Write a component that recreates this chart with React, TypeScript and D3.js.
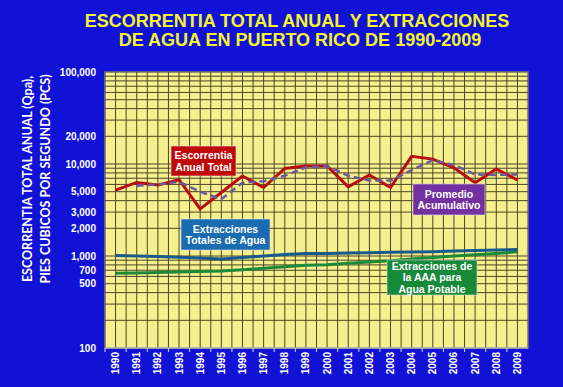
import React from "react"
import * as d3 from "d3"

// data
const years = [
	"1990", "1991", "1992", "1993", "1994", "1995", "1996", "1997", "1998", "1999",
	"2000", "2001", "2002", "2003", "2004", "2005", "2006", "2007", "2008", "2009",
]
const runoff = [
	5200, 6300, 5900, 6750, 3250, 4900, 7400, 5550, 8950, 9500,
	9500, 5650, 7600, 5550, 12100, 11300, 9100, 6250, 8850, 6700,
]
const cumulativeAvg = [
	null, 5800, 6000, 6400, 5000, 4150, 6250, 6500, 7450, 9200,
	9500, 7450, 6600, 6600, 8600, 11000, 9750, 7700, 7600, 7700,
]
const totalWithdrawals = [
	1010, 1000, 990, 970, 950, 925, 965, 1000, 1040, 1065,
	1065, 1075, 1085, 1095, 1105, 1115, 1130, 1145, 1160, 1180,
]
const aaaWithdrawals = [
	650, 655, 660, 668, 680, 686, 708, 735, 763, 792,
	805, 834, 862, 890, 925, 965, 1000, 1030, 1065, 1110,
]
const yTicks = [100, 500, 700, 1000, 2000, 3000, 5000, 10000, 20000, 100000]

const W = 563
const H = 387
const margin = { top: 72, right: 35, bottom: 39, left: 105 }

const App: React.FC = () => {
	const innerW = W - margin.left - margin.right
	const innerH = H - margin.top - margin.bottom

	const x = d3.scaleBand().domain(years).range([margin.left, margin.left + innerW])
	const y = d3.scaleLog().domain([100, 100000]).range([margin.top + innerH, margin.top])
	const cx = (d: string) => (x(d) as number) + x.bandwidth() / 2

	const hGrid: number[] = []
	for (const dec of [100, 1000, 10000]) {
		for (let k = 1; k <= 9; k++) hGrid.push(dec * k)
	}
	hGrid.push(100000)

	const vGrid: number[] = []
	years.forEach((yr) => {
		vGrid.push(x(yr) as number)
		vGrid.push(cx(yr))
	})
	vGrid.push(margin.left + innerW)

	const line = d3
		.line<number | null>()
		.defined((d) => d != null)
		.x((d, i) => cx(years[i]))
		.y((d) => y(d as number))

	const font = "'Liberation Sans', Arial, sans-serif"

	const box = (
		x0: number,
		y0: number,
		w: number,
		h: number,
		fill: string,
		lines: string[]
	) => (
		<g>
			<rect x={x0} y={y0} width={w} height={h} fill={fill} stroke="#e0e0e0" strokeWidth={0.6} />
			{lines.map((t, i) => (
				<text
					key={i}
					x={x0 + w / 2}
					y={y0 + h / 2 + (i - (lines.length - 1) / 2) * 11.5}
					dy="0.36em"
					textAnchor="middle"
					fill="white"
					fontWeight="bold"
					fontSize={10.5}
					fontFamily={font}>
					{t}
				</text>
			))}
		</g>
	)

	return (
		<svg
			width={W}
			height={H}
			style={{ position: "absolute", left: 0, top: 0, display: "block" }}>
			<rect width={W} height={H} fill="#1212d6" />

			{/* title */}
			<g fontFamily={font} fontWeight="bold" fontSize={18} fill="#f4f42c" textAnchor="middle">
				<text x={297} y={27}>ESCORRENTIA TOTAL ANUAL Y EXTRACCIONES</text>
				<text x={300} y={46}>DE AGUA EN PUERTO RICO DE 1990-2009</text>
			</g>

			{/* y axis title */}
			<g
				transform="translate(37,179) rotate(-90)"
				fontFamily="Lato, 'Open Sans', sans-serif"
				fontWeight="bold"
				fontSize={12.5}
				fill="white"
				textAnchor="middle">
				<text x={0} y={-9} dy="0.35em">ESCORRENTIA TOTAL ANUAL (Qpa),</text>
				<text x={0} y={9} dy="0.35em">PIES CUBICOS POR SEGUNDO (PCS)</text>
			</g>

			{/* plot area */}
			<rect
				x={margin.left}
				y={margin.top}
				width={innerW}
				height={innerH}
				fill="#f6ef8e"
				stroke="#cfd0e8"
				strokeWidth={1}
			/>
			<g stroke="#4a4626" strokeWidth={1}>
				{hGrid.map((v) => (
					<line key={"h" + v} x1={margin.left} x2={margin.left + innerW} y1={y(v)} y2={y(v)} />
				))}
				{vGrid.map((v, i) => (
					<line key={"v" + i} x1={v} x2={v} y1={margin.top} y2={margin.top + innerH} />
				))}
			</g>
			<line
				x1={margin.left}
				x2={margin.left + innerW}
				y1={margin.top + innerH}
				y2={margin.top + innerH}
				stroke="#d8d8e8"
				strokeWidth={1.2}
			/>
			<g stroke="#d8d8e8" strokeWidth={1}>
				{years.map((yr) => (
					<line
						key={yr}
						x1={x(yr) as number}
						x2={x(yr) as number}
						y1={margin.top + innerH}
						y2={margin.top + innerH + 4}
					/>
				))}
			</g>

			{/* y tick labels */}
			<g fontFamily={font} fontWeight="bold" fontSize={10} fill="white" textAnchor="end">
				{yTicks.map((v) => (
					<text key={v} x={96} y={y(v)} dy="0.35em">
						{d3.format(",")(v)}
					</text>
				))}
			</g>

			{/* x tick labels */}
			<g fontFamily={font} fontWeight="bold" fontSize={10} fill="white" textAnchor="end">
				{years.map((yr) => (
					<text key={yr} transform={`translate(${cx(yr)},352) rotate(-90)`} dy="0.35em">
						{yr}
					</text>
				))}
			</g>

			{/* series */}
			<path d={line(aaaWithdrawals) as string} fill="none" stroke="#1d8a38" strokeWidth={3} />
			<path d={line(totalWithdrawals) as string} fill="none" stroke="#175a8c" strokeWidth={3} />
			<path d={line(runoff) as string} fill="none" stroke="#b80d0d" strokeWidth={3} />
			<path
				d={line(cumulativeAvg) as string}
				fill="none"
				stroke="#6a5a9e"
				strokeWidth={2.5}
				strokeDasharray="7,4"
			/>

			{/* annotations */}
			{box(171, 146, 65, 30, "#c00a0a", ["Escorrentia", "Anual Total"])}
			{box(181, 219, 89, 31, "#1a6cb0", ["Extracciones", "Totales de Agua"])}
			{box(413, 184, 72, 31, "#7230a0", ["Promedio", "Acumulativo"])}
			{box(387, 260, 90, 35, "#178a3a", ["Extracciones de", "la AAA para", "Agua Potable"])}
		</svg>
	)
}

export default App
